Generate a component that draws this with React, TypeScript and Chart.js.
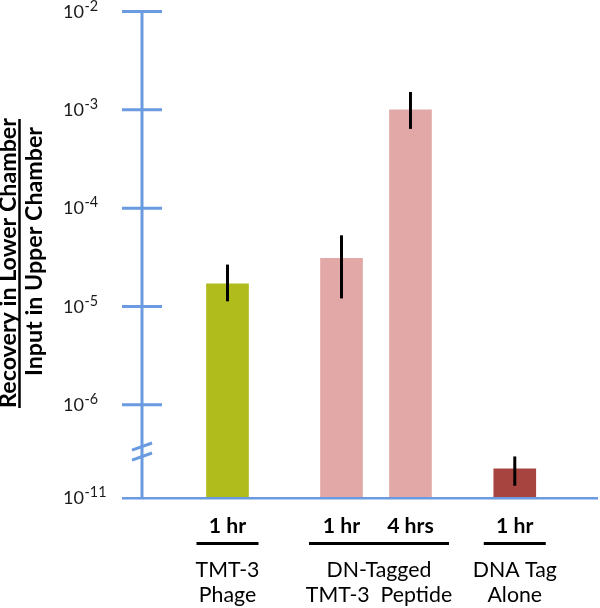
import { useEffect, useRef } from "react";
import { Chart, registerables } from "chart.js";

Chart.register(...registerables);

// ---------- data ----------
const categories = [
  "TMT-3 Phage 1 hr",
  "DN-Tagged TMT-3 Peptide 1 hr",
  "DN-Tagged TMT-3 Peptide 4 hrs",
  "DNA Tag Alone 1 hr",
];
const timeLabels = ["1 hr", "1 hr", "4 hrs", "1 hr"];
const recovery = [1.7e-5, 3.1e-5, 1.0e-3, 3.8e-10];
const errorLow = [1.13e-5, 1.21e-5, 6.4e-4, 4.7e-11];
const errorHigh = [2.67e-5, 5.3e-5, 1.52e-3, 1.74e-9];
const groupLabelLines = [
  ["TMT-3", "Phage"],
  ["DN-Tagged", "TMT-3  Peptide"],
  ["DNA Tag", "Alone"],
];
const groupBars = [[0], [1, 2], [3]];
const tickExponents = [-2, -3, -4, -5, -6];
const bottomExponent = -11;
const titleTop = "Recovery in Lower Chamber";
const titleBottom = "Input in Upper Chamber";

// ---------- layout / style ----------
const barColors = ["#b0bb1c", "#e2a8a7", "#e2a8a7", "#a8443f"];
const AXIS_COLOR = "#6a9ae0";
const FONT = "Lato, 'Open Sans', sans-serif";
const BREAK_AT = -6;
const BREAK_SPAN = 0.95;
const AXIS_BOTTOM = BREAK_AT - BREAK_SPAN;
const barSlots = [5, 15, 21.05, 30.2];
const X_MAX = 35;

function toAxis(v: number): number {
  const e = Math.log10(v);
  if (e >= BREAK_AT) return e;
  return BREAK_AT - ((BREAK_AT - e) / (BREAK_AT - bottomExponent)) * BREAK_SPAN;
}

function fitSize(ctx: CanvasRenderingContext2D, text: string, target: number, weight: string) {
  ctx.font = `${weight} 100px ${FONT}`;
  const w = ctx.measureText(text).width;
  return (100 * target) / w;
}

const overlay = {
  id: "overlay",
  afterDatasetsDraw(chart: any) {
    const { ctx, chartArea, scales } = chart;
    const xs = scales.x;
    const ys = scales.y;
    const axisX = chartArea.left;
    const baseY = ys.getPixelForValue(AXIS_BOTTOM);
    const topY = ys.getPixelForValue(tickExponents[0]);
    ctx.save();

    // error bars
    ctx.strokeStyle = "#000";
    ctx.lineWidth = 3;
    ctx.lineCap = "butt";
    recovery.forEach((_, i) => {
      const px = xs.getPixelForValue(barSlots[i]);
      ctx.beginPath();
      ctx.moveTo(px, ys.getPixelForValue(toAxis(errorHigh[i])));
      ctx.lineTo(px, ys.getPixelForValue(toAxis(errorLow[i])));
      ctx.stroke();
    });

    // y axis
    ctx.strokeStyle = AXIS_COLOR;
    ctx.lineWidth = 3;
    ctx.beginPath();
    ctx.moveTo(axisX, topY);
    ctx.lineTo(axisX, baseY);
    ctx.stroke();
    tickExponents.forEach((e) => {
      const py = ys.getPixelForValue(e);
      ctx.beginPath();
      ctx.moveTo(axisX - 20, py);
      ctx.lineTo(axisX + 20, py);
      ctx.stroke();
    });
    // x axis
    ctx.lineWidth = 2.5;
    ctx.beginPath();
    ctx.moveTo(axisX - 20, baseY);
    ctx.lineTo(chartArea.right, baseY);
    ctx.stroke();
    // break marks
    ctx.lineWidth = 3;
    const breakY = ys.getPixelForValue(BREAK_AT - BREAK_SPAN / 2);
    [-5, 5].forEach((off) => {
      ctx.beginPath();
      ctx.moveTo(axisX - 10, breakY + off + 3.6);
      ctx.lineTo(axisX + 10, breakY + off - 3.6);
      ctx.stroke();
    });

    // tick labels
    const mainSize = fitSize(ctx, "10", 21, "normal");
    const supSize = fitSize(ctx, "-11", 22, "normal");
    ctx.fillStyle = "#1a1a1a";
    ctx.textAlign = "left";
    ctx.textBaseline = "alphabetic";
    const drawTick = (e: number, py: number) => {
      ctx.font = `normal ${mainSize}px ${FONT}`;
      ctx.fillText("10", 63, py + 6);
      const w = ctx.measureText("10").width;
      ctx.font = `normal ${supSize}px ${FONT}`;
      ctx.fillText(String(e), 63 + w + 0.5, py - 1);
    };
    tickExponents.forEach((e) => drawTick(e, ys.getPixelForValue(e)));
    drawTick(bottomExponent, baseY);

    // bottom labels
    ctx.fillStyle = "#000";
    ctx.textAlign = "center";
    const timeSize = fitSize(ctx, "4 hrs", 46.7, "bold");
    ctx.font = `bold ${timeSize}px ${FONT}`;
    timeLabels.forEach((t, i) => {
      ctx.fillText(t, xs.getPixelForValue(barSlots[i]), 533);
    });
    const groupSize = fitSize(ctx, "DN-Tagged", 105, "normal");
    ctx.font = `normal ${groupSize}px ${FONT}`;
    groupBars.forEach((bars, g) => {
      const pxs = bars.map((b) => xs.getPixelForValue(barSlots[b]));
      const cx = pxs.reduce((a, b) => a + b, 0) / pxs.length + (bars.length > 1 ? 3 : 0);
      const hw = bars.length > 1 ? 70 : 31;
      ctx.strokeStyle = "#000";
      ctx.lineWidth = 3;
      ctx.beginPath();
      ctx.moveTo(cx - hw, 543.5);
      ctx.lineTo(cx + hw, 543.5);
      ctx.stroke();
      groupLabelLines[g].forEach((line, li) => {
        ctx.fillText(line, cx, 577 + li * 25);
      });
    });

    // y title (fraction)
    const titleSize = fitSize(ctx, titleTop, 290, "bold");
    ctx.font = `bold ${titleSize}px ${FONT}`;
    ctx.save();
    ctx.translate(16, 263);
    ctx.rotate(-Math.PI / 2);
    ctx.fillText(titleTop, 0, 0);
    ctx.restore();
    ctx.save();
    ctx.translate(42, 251.5);
    ctx.rotate(-Math.PI / 2);
    ctx.fillText(titleBottom, 0, 0);
    ctx.restore();
    ctx.strokeStyle = "#000";
    ctx.lineWidth = 2.5;
    ctx.beginPath();
    ctx.moveTo(19.5, 119);
    ctx.lineTo(19.5, 408);
    ctx.stroke();

    ctx.restore();
  },
};

export default function App() {
  const ref = useRef<HTMLCanvasElement | null>(null);
  useEffect(() => {
    document.body.style.margin = "0";
    const canvas = ref.current;
    if (!canvas) return;
    const chart = new Chart(canvas, {
      type: "bar",
      data: {
        labels: categories,
        datasets: [
          {
            label: "Recovery",
            data: recovery.map((v, i) => ({ x: barSlots[i], y: [AXIS_BOTTOM, toAxis(v)] })) as any,
            backgroundColor: barColors,
            borderWidth: 0,
            barThickness: 42,
          },
        ],
      },
      options: {
        animation: false,
        responsive: false,
        devicePixelRatio: 1,
        layout: { padding: { left: 142, right: 2, top: 11.5, bottom: 608 - 498.3 } },
        scales: {
          x: { type: "linear", min: 0, max: X_MAX, display: false },
          y: { type: "linear", min: AXIS_BOTTOM, max: tickExponents[0], display: false },
        },
        plugins: {
          legend: { display: false },
          tooltip: { enabled: false },
        },
      },
      plugins: [overlay],
    });
    return () => chart.destroy();
  }, []);
  return (
    <div style={{ width: 600, height: 608 }}>
      <canvas ref={ref} width={600} height={608} style={{ display: "block" }} />
    </div>
  );
}
